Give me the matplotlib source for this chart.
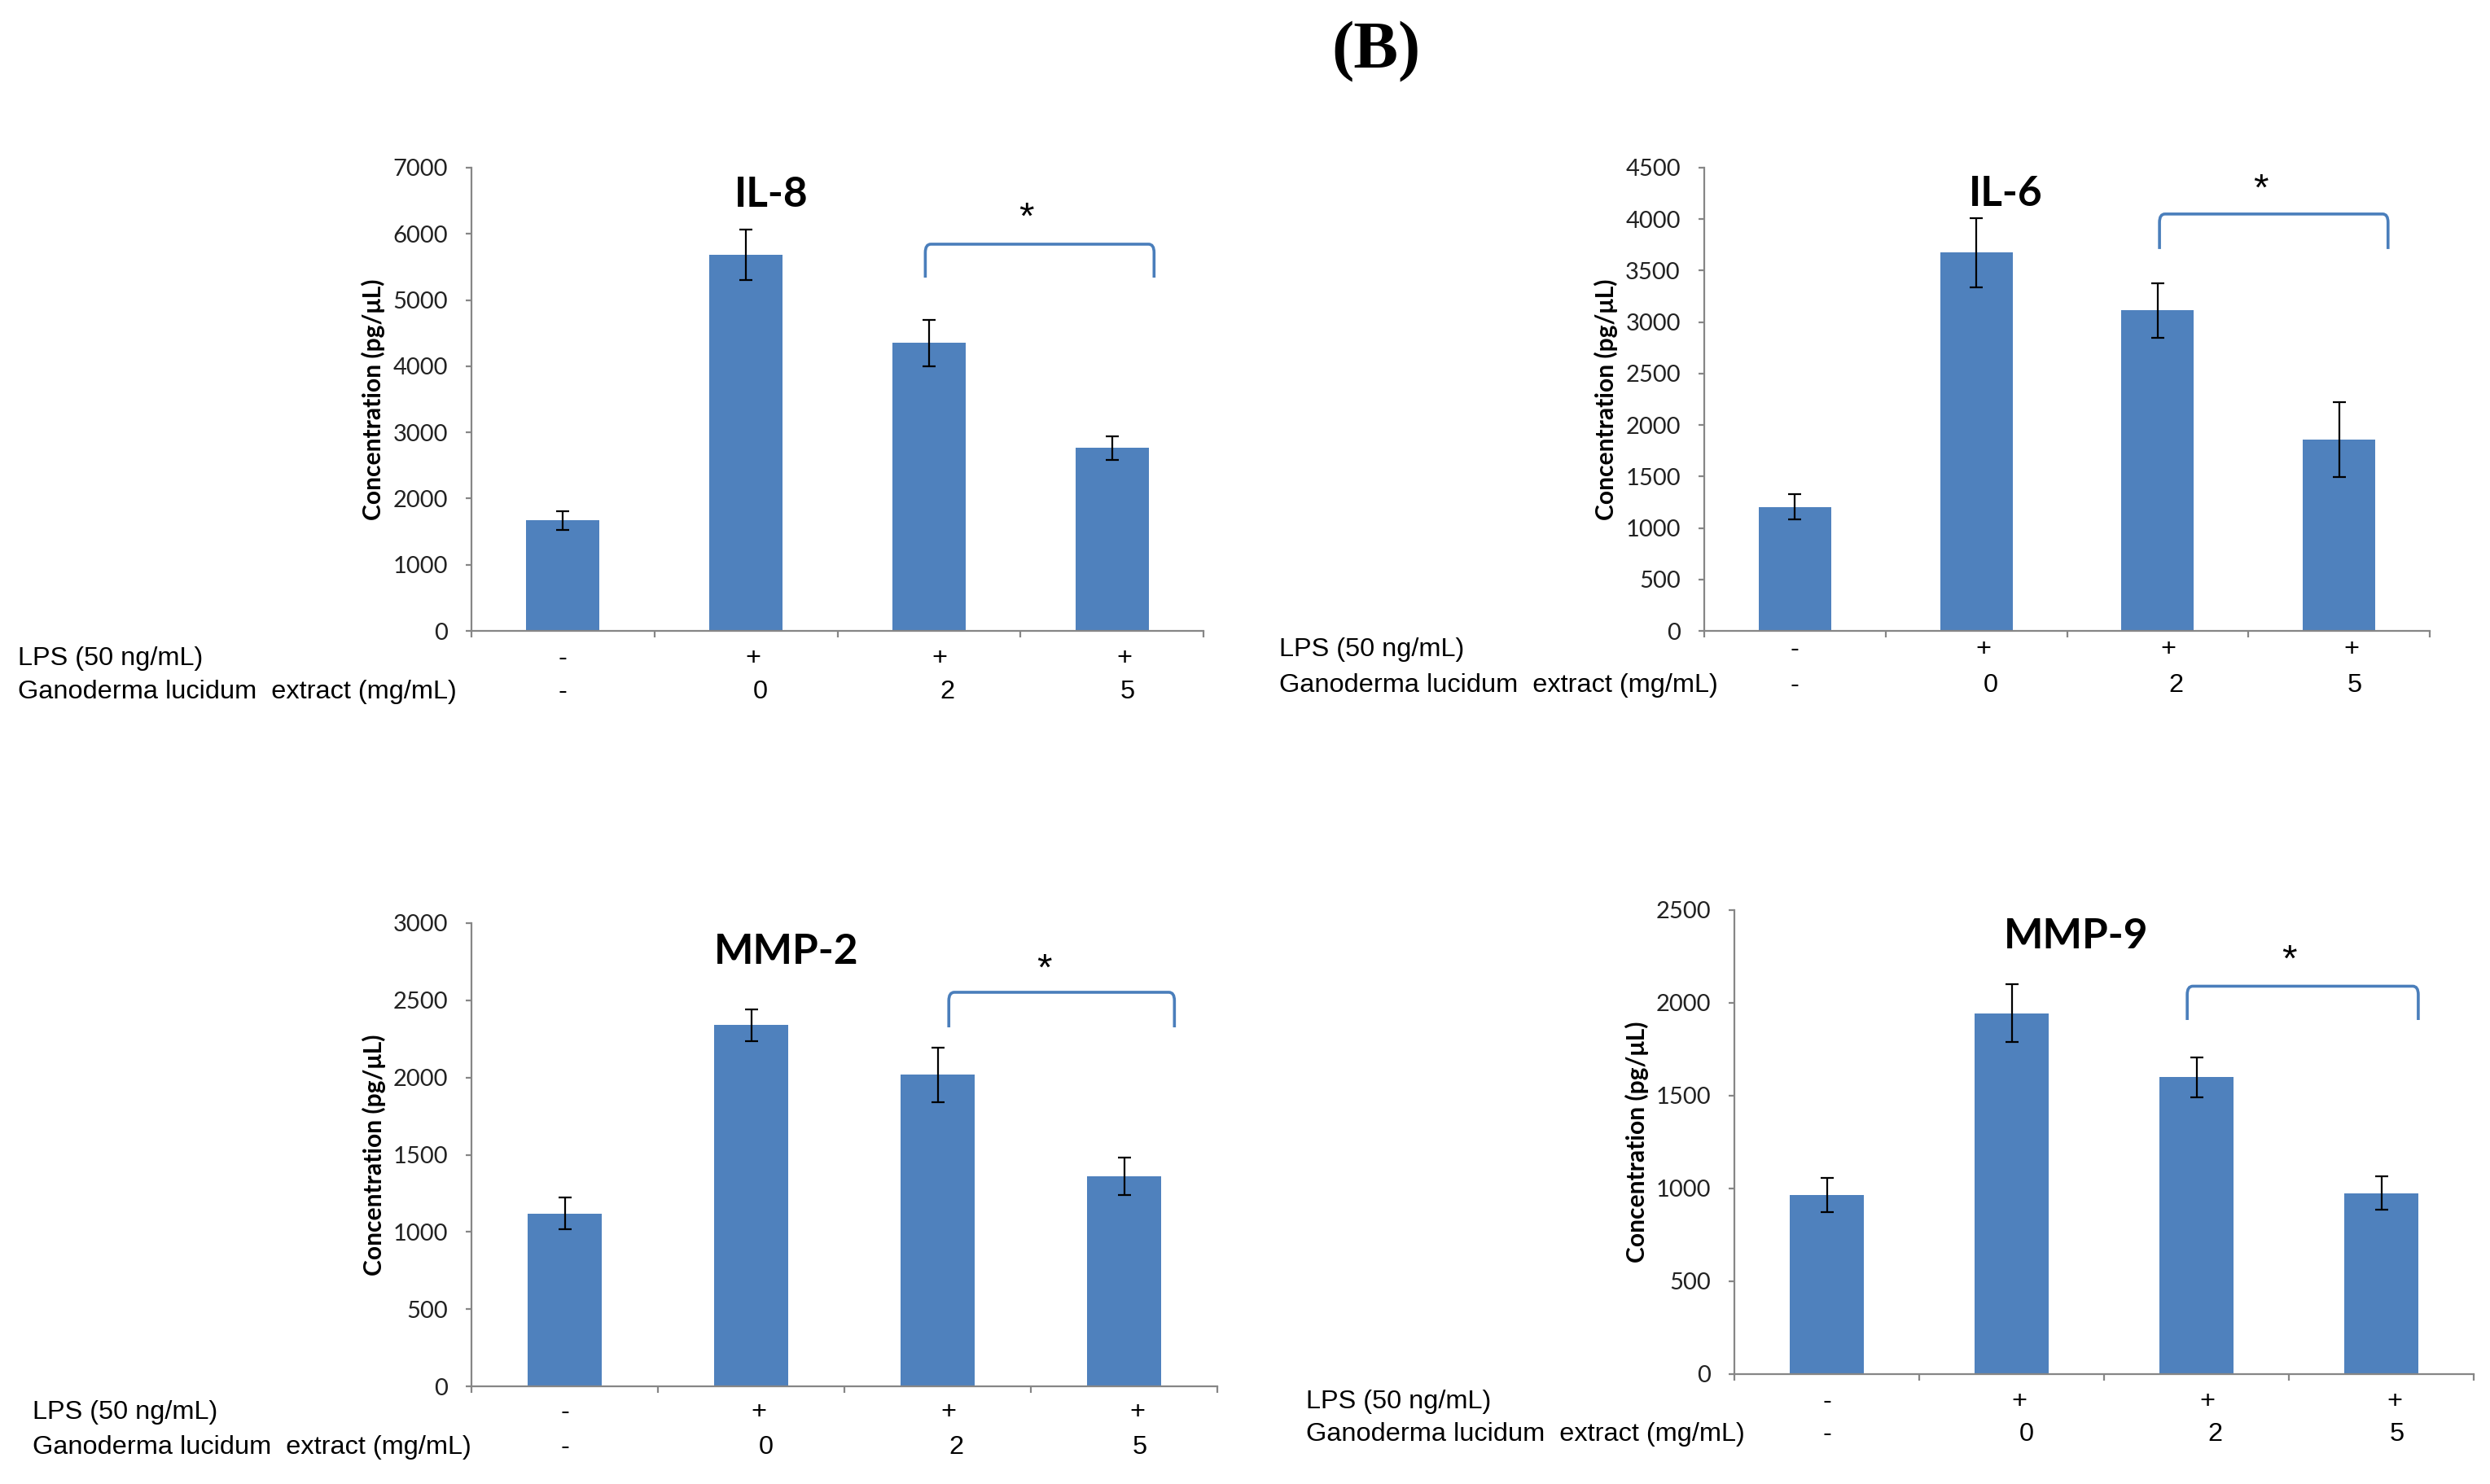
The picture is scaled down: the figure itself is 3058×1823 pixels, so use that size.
import matplotlib
matplotlib.use("Agg")
import matplotlib.pyplot as plt
from matplotlib.path import Path
from matplotlib.patches import PathPatch
import matplotlib.transforms as mtransforms

# ---------------- data ----------------
lps_row = ["-", "+", "+", "+"]
extract_row = ["-", "0", "2", "5"]
row_label_lps = "LPS (50 ng/mL)"
row_label_extract = "Ganoderma lucidum  extract (mg/mL)"
y_label = "Concentration (pg/\u03bcL)"
figure_tag = "(B)"

il8_mean = [1670, 5680, 4350, 2765]
il8_err = [142, 380, 355, 178]
il6_mean = [1205, 3675, 3113, 1860]
il6_err = [122, 335, 262, 365]
mmp2_mean = [1120, 2340, 2017, 1360]
mmp2_err = [102, 103, 175, 122]
mmp9_mean = [965, 1945, 1600, 975]
mmp9_err = [91, 156, 107, 91]

titles = ["IL-8", "IL-6", "MMP-2", "MMP-9"]
y_max = [7000, 4500, 3000, 2500]
y_step = [1000, 500, 500, 500]
means = [il8_mean, il6_mean, mmp2_mean, mmp9_mean]
errs = [il8_err, il6_err, mmp2_err, mmp9_err]

# ---------------- layout (pixels of the 3058x1823 canvas) ----------------
W, H = 3058, 1823
DPI = 200
layout = [
    dict(l=579, r=1478, t=206, b=775, ylx=458, rlx=22, r1=809, r2=850,
         br=(1.98, 3.23, 5844, 5339), star=(2.53, 6348), title=(1.14, 6643)),
    dict(l=2093, r=2984, t=206, b=775, ylx=1972, rlx=1571, r1=798, r2=842,
         br=(2.01, 3.27, 4050, 3710), star=(2.57, 4359), title=(1.16, 4272)),
    dict(l=579, r=1495, t=1134, b=1703, ylx=459, rlx=40, r1=1735, r2=1778,
         br=(2.06, 3.27, 2552, 2325), star=(2.57, 2747), title=(1.19, 2837)),
    dict(l=2130, r=3038, t=1118, b=1688, ylx=2010, rlx=1604, r1=1722, r2=1762,
         br=(1.95, 3.20, 2090, 1908), star=(2.50, 2268), title=(1.35, 2377)),
]
row1_shift = [0, 0.04, 0.06, 0.07]
row2_shift = [0, 0.08, 0.10, 0.085]

BAR = "#4F81BD"
AXC = "#868686"
BRC = "#4A7EBB"
TICKFONT = ["Lato", "DejaVu Sans"]
ARIAL = ["Liberation Sans", "DejaVu Sans"]

fig = plt.figure(figsize=(W / DPI, H / DPI), dpi=DPI)
fig.patch.set_facecolor("white")


def fxy(px, py):
    return px / W, 1 - py / H


for i in range(4):
    L = layout[i]
    x0, y0 = fxy(L["l"], L["b"])
    ax = fig.add_axes([x0, y0, (L["r"] - L["l"]) / W, (L["b"] - L["t"]) / H])
    xs = list(range(len(means[i])))
    ax.bar(xs, means[i], width=0.4, color=BAR, zorder=2)
    ax.errorbar(xs, means[i], yerr=errs[i], fmt="none", ecolor="black",
                elinewidth=0.8, capsize=3, capthick=0.8, zorder=3)
    ax.set_xlim(-0.5, len(xs) - 0.5)
    ax.set_ylim(0, y_max[i])
    ax.set_yticks(range(0, y_max[i] + 1, y_step[i]))
    ax.set_xticks([k - 0.5 for k in range(len(xs) + 1)])
    ax.set_xticklabels([])
    for s in ["top", "right"]:
        ax.spines[s].set_visible(False)
    for s in ["left", "bottom"]:
        ax.spines[s].set_color(AXC)
        ax.spines[s].set_linewidth(0.8)
    ax.tick_params(axis="y", direction="out", length=2.5, width=0.8, color=AXC,
                   pad=8, labelsize=10.5, labelcolor="#222222")
    ax.tick_params(axis="x", direction="out", length=3, width=0.8, color=AXC)
    for lab in ax.get_yticklabels():
        lab.set_family(TICKFONT)

    # title
    tx, ty = L["title"]
    ax.annotate(titles[i], (tx, ty), xytext=(0, -1.5), textcoords="offset points",
                ha="center", va="center", fontsize=18.5, fontweight="bold",
                family=TICKFONT)

    # significance bracket
    bx0, bx1, btop, bbot = L["br"]
    rx = 0.03
    ry = y_max[i] * 0.018
    verts = [(bx0, bbot), (bx0, btop - ry), (bx0, btop), (bx0 + rx, btop),
             (bx1 - rx, btop), (bx1, btop), (bx1, btop - ry), (bx1, bbot)]
    codes = [Path.MOVETO, Path.LINETO, Path.CURVE3, Path.CURVE3,
             Path.LINETO, Path.CURVE3, Path.CURVE3, Path.LINETO]
    ax.add_patch(PathPatch(Path(verts, codes), fill=False, edgecolor=BRC,
                           linewidth=1.3, zorder=4, clip_on=False))
    sx, sy = L["star"]
    ax.annotate("*", (sx, sy), xytext=(0, -3.5), textcoords="offset points",
                ha="center", va="center", fontsize=17, family=ARIAL,
                color="black")

    # y label
    lx, ly = fxy(L["ylx"], (L["t"] + L["b"]) / 2)
    fig.text(lx, ly, y_label, rotation=90, ha="center", va="center",
             fontsize=10.8, fontweight="bold", family=TICKFONT)

    # row labels
    _, r1y = fxy(0, L["r1"])
    _, r2y = fxy(0, L["r2"])
    fig.text(L["rlx"] / W, r1y, row_label_lps, ha="left", va="center",
             fontsize=11.7, family=ARIAL)
    fig.text(L["rlx"] / W, r2y, row_label_extract, ha="left", va="center",
             fontsize=11.7, family=ARIAL)
    tr = mtransforms.blended_transform_factory(ax.transData, fig.transFigure)
    for k in xs:
        ax.text(k + row1_shift[k], r1y, lps_row[k], transform=tr, ha="center",
                va="center", fontsize=11.7, family=ARIAL)
        ax.text(k + row2_shift[k], r2y, extract_row[k], transform=tr,
                ha="center", va="center", fontsize=11.7, family=ARIAL)

bx, by = fxy(1690, 64)
fig.text(bx, by, figure_tag, ha="center", va="center", fontsize=29.5,
         fontweight="bold", family=["Liberation Serif", "DejaVu Serif"])

fig.savefig("out.png", dpi=DPI, facecolor="white")
